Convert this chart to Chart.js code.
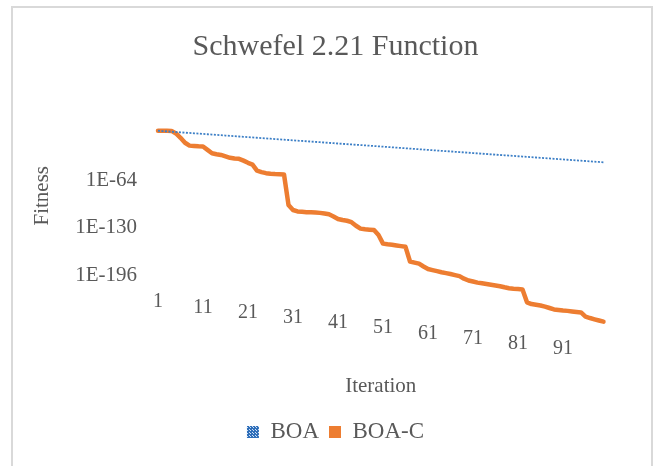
<!DOCTYPE html>
<html>
<head>
<meta charset="utf-8">
<script src="https://cdn.jsdelivr.net/npm/chart.js@4.4.1/dist/chart.umd.min.js"></script>
<style>
html,body{margin:0;padding:0;background:#fff;}
#quadro{position:absolute;left:11px;top:6px;width:638px;height:470px;border:2px solid #d9d9d9;}
#caixa{position:absolute;left:0;top:0;width:654px;height:466px;}
</style>
</head>
<body>
<div id="quadro"></div>
<div id="caixa"><canvas id="grafico" width="654" height="466"></canvas></div>
<script>

const iteracoes = [
1,2,3,4,5,6,7,8,9,10,
11,12,13,14,15,16,17,18,19,20,
21,22,23,24,25,26,27,28,29,30,
31,32,33,34,35,36,37,38,39,40,
41,42,43,44,45,46,47,48,49,50,
51,52,53,54,55,56,57,58,59,60,
61,62,63,64,65,66,67,68,69,70,
71,72,73,74,75,76,77,78,79,80,
81,82,83,84,85,86,87,88,89,90,
91,92,93,94,95,96,97,98,99,100
];

const boa = [
6.3e5,2.3e5,8.1e4,2.9e4,1.0e4,3.7e3,1.3e3,4.8e2,1.7e2,6.2e1,
2.2e1,7.9,2.8,1.0,3.7e-1,1.3e-1,4.7e-2,1.7e-2,6.0e-3,2.2e-3,
7.8e-4,2.8e-4,1.0e-4,3.6e-5,1.3e-5,4.6e-6,1.6e-6,5.9e-7,2.1e-7,7.6e-8,
2.7e-8,9.8e-9,3.5e-9,1.3e-9,4.5e-10,1.6e-10,5.8e-11,2.1e-11,7.4e-12,2.7e-12,
9.5e-13,3.4e-13,1.2e-13,4.4e-14,1.6e-14,5.7e-15,2.0e-15,7.3e-16,2.6e-16,9.3e-17,
3.4e-17,1.2e-17,4.3e-18,1.5e-18,5.5e-19,2.0e-19,7.1e-20,2.5e-20,9.1e-21,3.3e-21,
1.2e-21,4.2e-22,1.5e-22,5.4e-23,1.9e-23,7.0e-24,2.5e-24,8.9e-25,3.2e-25,1.1e-25,
4.1e-26,1.5e-26,5.3e-27,1.9e-27,6.8e-28,2.4e-28,8.7e-29,3.1e-29,1.1e-29,4.0e-30,
1.4e-30,5.2e-31,1.9e-31,6.7e-32,2.4e-32,8.6e-33,3.1e-33,1.1e-33,3.9e-34,1.4e-34,
5.1e-35,1.8e-35,6.5e-36,2.3e-36,8.4e-37,3.0e-37,1.1e-37,3.9e-38,1.4e-38,5.0e-39
];

const boaC = [
6.3e5,6.3e5,5.0e5,4.0e5,1e2,1e-4,1e-11,1e-15,3.2e-16,1e-16,
5e-17,1e-21,2e-26,1e-27,1e-28,1e-30,1e-32,1e-33,3.2e-34,1e-36,
1e-39,3.2e-42,1e-50,1e-52,3.2e-54,5e-55,1.6e-55,1e-55,6.3e-56,1e-98,
1e-105,1e-107,3.2e-108,1e-108,5e-109,3.2e-109,1e-109,1e-110,1e-111,1e-114,
3.2e-118,1e-119,1e-120,1e-122,1e-127,1e-131,1e-132,3.2e-133,1e-133,1e-140,
1e-152,1e-153,3.2e-154,3.2e-155,3.2e-156,3.2e-157,1e-177,3.2e-179,1e-180,1e-184,
3.2e-188,1e-189,3.2e-191,1e-192,6.3e-194,3.2e-195,1e-196,4e-198,1e-201,3.2e-204,
1e-205,3.2e-207,3.2e-208,3.2e-209,3.2e-210,3.2e-211,3.2e-212,1e-213,5e-215,1e-215,
3.2e-216,7.9e-217,1e-234,3.2e-237,3.2e-238,3.2e-239,1e-240,1e-242,1e-244,1.6e-245,
3.2e-246,1e-246,1.6e-247,3.2e-248,6.3e-249,1e-254,1e-256,1.6e-258,3.2e-260,7.9e-262
];

const yTicks = [1e-64,1e-130,1e-196];
const yRotulos = ['1E-64','1E-130','1E-196'];

const cinza = '#595959';
const fonte = 'Liberation Serif';

function xadrez(){

const c = document.createElement('canvas');
c.width = 3;
c.height = 3;
const g = c.getContext('2d');
g.fillStyle = '#2f6fba';
g.fillRect(0,0,3,3);
g.fillStyle = '#cfe0f4';
g.fillRect(1,1,1,1);
g.fillRect(0,0,1,1);
return g.createPattern(c,'repeat');

}

const ctx = document.getElementById('grafico');

const chart = new Chart(ctx,{

type:'line',

data:{

labels:iteracoes,

datasets:[{

label:'BOA',
data:boa,
borderColor:'#3c7fc6',
backgroundColor:xadrez(),
borderWidth:1.8,
borderDash:[2,1.5],
pointRadius:0,
clip:false

},{

label:'BOA-C',
data:boaC,
borderColor:'#ed7d31',
backgroundColor:'#ed7d31',
borderWidth:4.5,
borderJoinStyle:'round',
borderCapStyle:'round',
pointRadius:0,
clip:false

}]

},

options:{

responsive:false,
animation:false,

layout:{
padding:{left:67.5,right:50.5,top:0,bottom:12.5}
},

plugins:{

title:{
display:true,
text:'Schwefel 2.21 Function',
color:cinza,
font:{family:fonte,size:30,weight:'normal'},
padding:{top:29.3,bottom:36}
},

legend:{
position:'bottom',
labels:{
color:cinza,
font:{family:fonte,size:23},
boxWidth:12,
boxHeight:12,
padding:10,
generateLabels(ch){
const itens = Chart.defaults.plugins.legend.labels.generateLabels(ch);
itens.forEach(it => {
it.lineWidth = 0;
it.lineDash = [];
});
return itens;
}
}
},

tooltip:{enabled:false}

},

scales:{

x:{
grid:{display:false,drawTicks:false},
border:{display:false},
ticks:{
autoSkip:false,
maxRotation:0,
minRotation:0,
padding:9.4,
color:cinza,
font:{family:fonte,size:20,lineHeight:0.26},
callback(v,i){
if(i % 10 !== 0) return '';
// each label sits a little lower than the previous one, as in the picture
return Array(i / 10).fill('').concat(String(iteracoes[i]));
}
},
title:{
display:true,
text:'Iteration',
color:cinza,
font:{family:fonte,size:21},
padding:{top:12.4,bottom:11.9}
}
},

y:{
type:'logarithmic',
min:8.1e-218,
max:9.1e46,
grid:{display:false,drawTicks:false},
border:{display:false},
afterBuildTicks(s){
s.ticks = yTicks.map(v => ({value:v}));
},
afterFit(s){
s.width = 90.5;
},
ticks:{
padding:21,
color:cinza,
font:{family:fonte,size:21},
callback(v,i){
return yRotulos[i];
}
},
title:{
display:true,
text:'Fitness',
color:cinza,
font:{family:fonte,size:21},
padding:{top:-38.1,bottom:0}
}
}

}

}

});

</script>
</body>
</html>
